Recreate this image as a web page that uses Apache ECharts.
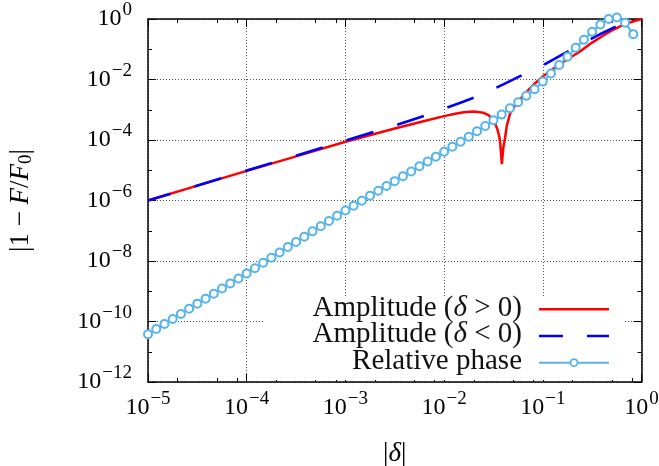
<!DOCTYPE html>
<html>
<head>
<meta charset="utf-8">
<script src="https://cdn.jsdelivr.net/npm/echarts@6/dist/echarts.min.js"></script>
<style>
  html, body { margin: 0; padding: 0; background: #fff; }
  #chart { width: 659px; height: 466px; }
</style>
</head>
<body>
<div id="chart"></div>
<script>
// all values are log10
// Amplitude (delta > 0), solid red
var ampPosLogX = [-5, -4.5, -4, -3.5, -3, -2.5, -2.2, -2.0, -1.9, -1.8, -1.7, -1.6, -1.55, -1.5, -1.48, -1.46, -1.44, -1.43, -1.415, -1.40, -1.383, -1.366, -1.333, -1.3, -1.25, -1.2, -1.15, -1.1, -1.0, -0.9, -0.8, -0.7, -0.6, -0.5, -0.4, -0.3, -0.2, -0.1, 0];
var ampPosLogY = [-6.00, -5.51, -5.02, -4.54, -4.06, -3.62, -3.37, -3.21, -3.14, -3.08, -3.06, -3.10, -3.18, -3.36, -3.48, -3.65, -3.90, -4.15, -4.80, -4.25, -3.95, -3.55, -3.14, -2.95, -2.73, -2.54, -2.36, -2.19, -1.90, -1.66, -1.44, -1.23, -1.02, -0.78, -0.57, -0.38, -0.22, -0.09, 0.00];

// Amplitude (delta < 0), dashed blue
var ampNegLogX = [-5, -4, -3, -2.5, -2.2, -2.0, -1.8, -1.6, -1.4, -1.2, -1.0, -0.8, -0.6, -0.4, -0.2, -0.08];
var ampNegLogY = [-6.00, -5.01, -4.02, -3.52, -3.20, -2.96, -2.73, -2.47, -2.16, -1.84, -1.53, -1.17, -0.81, -0.47, -0.16, 0.00];

// Relative phase, one marker every 1/12 decade starting at 1e-5
var phaseLogY = [
  -10.42, -10.25, -10.08, -9.92, -9.75, -9.58, -9.41, -9.25, -9.08, -8.91, -8.74, -8.58,
  -8.41, -8.24, -8.06, -7.89, -7.72, -7.54, -7.37, -7.20, -7.02, -6.85, -6.68, -6.50,
  -6.33, -6.17, -6.01, -5.84, -5.68, -5.52, -5.36, -5.20, -5.04, -4.87, -4.71, -4.55,
  -4.39, -4.22, -4.06, -3.89, -3.71, -3.54, -3.35, -3.16, -2.95, -2.75, -2.54, -2.32,
  -2.07, -1.80, -1.52, -1.25, -0.95, -0.69, -0.42, -0.18, 0.00, 0.05, -0.12, -0.50
];
var phaseLogX0 = -5;
var phaseStep = 1 / 12;

var FONT = "'Liberation Serif', 'DejaVu Serif', serif";
var RED = '#ff0000', BLUE = '#0000ff', SKY = '#56b4e9';

function pairs(lx, ly) {
  return lx.map(function (v, i) { return [Math.pow(10, v), Math.pow(10, ly[i])]; });
}
var phaseData = phaseLogY.map(function (v, k) {
  return [Math.pow(10, phaseLogX0 + k * phaseStep), Math.pow(10, v)];
});

// minor tick spots: gnuplot put them at 2, 5 and 8 in every decade on x
var xMinor = [];
for (var e = -5; e < 0; e++) { [2, 5, 8].forEach(function (m) { xMinor.push(m * Math.pow(10, e)); }); }
var yMinor = [];
for (var e2 = -11; e2 < 0; e2 += 2) yMinor.push(Math.pow(10, e2));

function powLabel(v) {
  var e = Math.round(Math.log10(v));
  return '{b|10}{s|' + (e < 0 ? '\u2212' + (-e) : e) + '}';
}
var labelRich = {
  b: { fontSize: 24, fontFamily: FONT, color: '#000' },
  s: { fontSize: 19, fontFamily: FONT, color: '#000', padding: [0, 0, 17, 1] }
};
var nameRich = {
  r: { fontSize: 27, fontFamily: FONT, color: '#000' },
  i: { fontSize: 27, fontFamily: FONT, fontStyle: 'italic', color: '#000' },
  sub: { fontSize: 19, fontFamily: FONT, color: '#000', padding: [12, 0, 0, 0] }
};

function mirrorAxis(pos, isX, minor) {
  var ax = {
    type: 'log', logBase: 10, position: pos,
    min: isX ? 1e-5 : 1e-12, max: 1,
    axisLine: { show: !minor, onZero: false, lineStyle: { color: '#000', width: 1.5 } },
    axisTick: { show: true, inside: true, length: minor ? 4 : 8, lineStyle: { color: '#000', width: 1 } },
    axisLabel: { show: false },
    splitLine: { show: false }
  };
  if (minor) ax.axisTick.customValues = isX ? xMinor : yMinor;
  else ax.interval = isX ? 1 : 2;
  return ax;
}

var chart = echarts.init(document.getElementById('chart'));
var option = {
  animation: false,
  backgroundColor: '#fff',
  grid: { left: 148, right: 17.5, top: 19, bottom: 84, outerBoundsMode: 'none', containLabel: false },
  xAxis: [
    {
      type: 'log', logBase: 10, min: 1e-5, max: 1, interval: 1, position: 'bottom',
      name: '{r||}{i|\u03b4}{r||}', nameLocation: 'middle', nameGap: 58,
      nameTextStyle: { rich: nameRich },
      axisLine: { onZero: false, lineStyle: { color: '#000', width: 1.5 } },
      axisTick: { inside: true, length: 8, lineStyle: { color: '#000' } },
      axisLabel: { margin: 8, formatter: powLabel, rich: labelRich, showMinLabel: true, showMaxLabel: true },
      splitLine: { show: true, lineStyle: { color: '#555', type: [1, 2], width: 1 } }
    },
    mirrorAxis('bottom', true, true),
    mirrorAxis('top', true, false),
    mirrorAxis('top', true, true)
  ],
  yAxis: [
    {
      type: 'log', logBase: 10, min: 1e-12, max: 1, interval: 2, position: 'left',
      name: '{r||1 \u2212 }{i|F}{r|/}{i|F}{sub|0}{r||}', nameLocation: 'middle', nameGap: 112, nameRotate: 90,
      nameTextStyle: { rich: nameRich },
      axisLine: { onZero: false, lineStyle: { color: '#000', width: 1.5 } },
      axisTick: { inside: true, length: 8, lineStyle: { color: '#000' } },
      axisLabel: { margin: 16, formatter: powLabel, rich: labelRich, showMinLabel: true, showMaxLabel: true },
      splitLine: { show: true, lineStyle: { color: '#555', type: [1, 2], width: 1 } }
    },
    mirrorAxis('left', false, true),
    mirrorAxis('right', false, false),
    mirrorAxis('right', false, true)
  ],
  series: [
    {
      name: 'Amplitude (\u03b4 > 0)', type: 'line', symbol: 'none', z: 2,
      lineStyle: { color: RED, width: 2.5 },
      data: pairs(ampPosLogX, ampPosLogY)
    },
    {
      name: 'Amplitude (\u03b4 < 0)', type: 'line', symbol: 'none', z: 3,
      lineStyle: { color: BLUE, width: 2.6, type: [28, 25], dashOffset: 4.5 },
      data: pairs(ampNegLogX, ampNegLogY)
    },
    {
      name: 'Relative phase', type: 'line', z: 4, clip: false,
      symbol: 'emptyCircle', symbolSize: 8,
      itemStyle: { color: SKY, borderWidth: 1.8 },
      lineStyle: { color: SKY, width: 2 },
      data: phaseData
    }
  ],
  graphic: [
    { type: 'rect', z: 10, shape: { x: 265, y: 296, width: 360, height: 84 }, style: { fill: '#fff' } },
    { type: 'text', z: 11, style: { x: 522, y: 308, align: 'right', verticalAlign: 'middle', text: '{r|Amplitude (}{i|\u03b4}{r| > 0)}', rich: { r: { fontSize: 29, fontFamily: FONT, fill: '#111' }, i: { fontSize: 29, fontFamily: FONT, fontStyle: 'italic', fill: '#111' } } } },
    { type: 'text', z: 11, style: { x: 522, y: 334.7, align: 'right', verticalAlign: 'middle', text: '{r|Amplitude (}{i|\u03b4}{r| < 0)}', rich: { r: { fontSize: 29, fontFamily: FONT, fill: '#111' }, i: { fontSize: 29, fontFamily: FONT, fontStyle: 'italic', fill: '#111' } } } },
    { type: 'text', z: 11, style: { x: 522, y: 361.3, align: 'right', verticalAlign: 'middle', text: 'Relative phase', fontSize: 29, fontFamily: FONT, fill: '#111' } },
    { type: 'line', z: 11, shape: { x1: 539, y1: 309.3, x2: 609, y2: 309.3 }, style: { stroke: RED, lineWidth: 2.5 } },
    { type: 'line', z: 11, shape: { x1: 539, y1: 336, x2: 609, y2: 336 }, style: { stroke: BLUE, lineWidth: 2.6, lineDash: [24, 24] } },
    { type: 'line', z: 11, shape: { x1: 539, y1: 362.7, x2: 609, y2: 362.7 }, style: { stroke: SKY, lineWidth: 2 } },
    { type: 'circle', z: 12, shape: { cx: 574, cy: 362.7, r: 3.5 }, style: { fill: '#fff', stroke: SKY, lineWidth: 1.8 } }
  ]
};
chart.setOption(option);
</script>
</body>
</html>
